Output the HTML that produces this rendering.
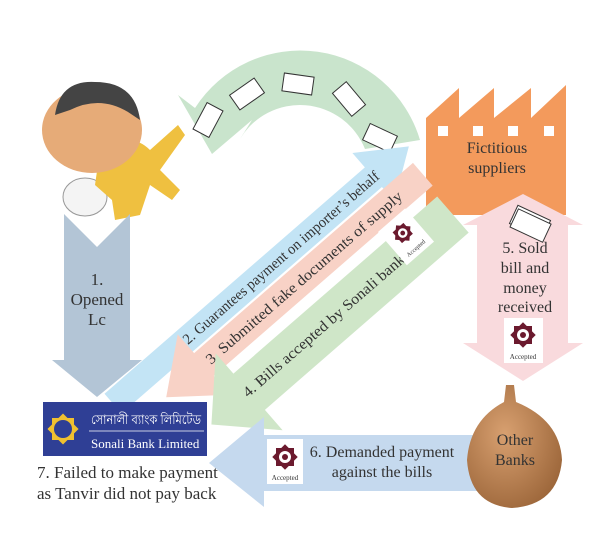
<!DOCTYPE html>
<html><head><meta charset="utf-8"><style>
html,body{margin:0;padding:0;background:#fff;}
svg{display:block;}
text{font-family:"Liberation Serif","Noto Serif CJK SC",serif;fill:#333;}
</style></head><body>
<svg width="600" height="539" viewBox="0 0 600 539" xmlns="http://www.w3.org/2000/svg">
<defs>
<radialGradient id="pot" cx="0.4" cy="0.4" r="0.7"><stop offset="0" stop-color="#d8a070"/><stop offset="1" stop-color="#9a6438"/></radialGradient>
<g id="star"><rect x="-9" y="-9" width="18" height="18" fill="#6b1a2e"/><rect x="-9" y="-9" width="18" height="18" fill="#6b1a2e" transform="rotate(45)"/><circle r="6" fill="#fff"/><circle r="3" fill="#6b1a2e"/></g>
</defs>

<!-- green arc -->
<path d="M420 140 A125 125 0 0 0 195 108 L178 95 L212 154 L252 120 L240 139 A70 70 0 0 1 365 149 Z" fill="#c9e4cc"/>
<g fill="#fff" stroke="#333" stroke-width="1">
<rect x="-15" y="-9" width="30" height="18" transform="translate(208,120) rotate(-62)"/>
<rect x="-15" y="-9" width="30" height="18" transform="translate(247,94) rotate(-35)"/>
<rect x="-15" y="-9" width="30" height="18" transform="translate(298,84) rotate(8)"/>
<rect x="-15" y="-9" width="30" height="18" transform="translate(349,99) rotate(50)"/>
<rect x="-15" y="-9" width="30" height="18" transform="translate(380,138) rotate(25)"/>
</g>

<!-- factory -->
<polygon points="426,215 426,118 459,88 459,118 494,88 494,118 531,88 531,118 566,85 566,215" fill="#f39a5c"/>
<g fill="#fff"><rect x="438" y="126" width="10" height="10"/><rect x="473" y="126" width="10" height="10"/><rect x="508" y="126" width="10" height="10"/><rect x="544" y="126" width="10" height="10"/></g>
<text x="497" y="153" font-size="16" text-anchor="middle">Fictitious</text>
<text x="497" y="173" font-size="16" text-anchor="middle">suppliers</text>

<!-- cartoon -->
<ellipse cx="85" cy="197" rx="22" ry="19" fill="#f4f4f4" stroke="#999"/>
<path d="M100 150 Q130 130 150 150 L178 125 L185 135 L160 170 L180 190 L172 200 L150 185 L140 215 L115 220 L112 200 L95 185 Z" fill="#efc040"/>
<ellipse cx="92" cy="130" rx="50" ry="43" fill="#e6ab78"/>
<path d="M55 115 Q60 80 95 82 Q135 82 140 120 L128 112 Q100 95 70 110 Z" fill="#444"/>

<!-- arrow 1 -->
<polygon points="64,214 97,247 130,214 130,360 142,360 97,397 52,360 64,360" fill="#b3c5d6"/>
<text x="97" y="285" font-size="17" text-anchor="middle">1.</text>
<text x="97" y="305" font-size="17" text-anchor="middle">Opened</text>
<text x="97" y="325" font-size="17" text-anchor="middle">Lc</text>

<!-- arrow 2 blue -->
<g transform="translate(188,345) rotate(-41)">
<polygon points="-95,-18 250,-18 250,-37 297,-5 250,27 250,8 -95,8" fill="#c3e4f5"/>
<text x="0" y="0" font-size="15" textLength="255" lengthAdjust="spacingAndGlyphs">2. Guarantees payment on importer’s behalf</text>
</g>
<!-- arrow 3 salmon -->
<g transform="translate(211,365) rotate(-41)">
<polygon points="285,-20 -5,-20 -5,-45 -55,-5 -5,35 -5,10 285,10" fill="#f8d2c6"/>
<text x="0" y="0" font-size="15" textLength="255" lengthAdjust="spacingAndGlyphs">3. Submitted fake documents of supply</text>
</g>
<!-- arrow 4 green -->
<g transform="translate(248,398) rotate(-41)">
<polygon points="275,-28 5,-28 5,-55 -45,-4 5,47 5,20 275,20" fill="#cfe6c8"/>
<text x="0" y="0" font-size="15" textLength="209" lengthAdjust="spacingAndGlyphs">4. Bills accepted by Sonali bank</text>
<g transform="translate(225,-18)"><rect x="-18" y="-22" width="36" height="44" fill="#fff"/><use href="#star" transform="translate(0,-5) scale(0.8)"/><text x="0" y="17" font-size="6" text-anchor="middle">Accepted</text></g>
</g>

<!-- arrow 5 -->
<polygon points="477,225 463,225 523,194 583,225 568,225 568,343 583,343 523,381 463,343 477,343" fill="#f9dadd"/>
<g transform="translate(530,222) rotate(25)"><rect x="-18" y="-10" width="36" height="20" fill="#fff" stroke="#333"/><rect x="-16" y="-7" width="36" height="20" fill="#fff" stroke="#333"/></g>
<text x="525" y="253" font-size="16" text-anchor="middle">5. Sold</text>
<text x="525" y="273" font-size="16" text-anchor="middle">bill and</text>
<text x="525" y="293" font-size="16" text-anchor="middle">money</text>
<text x="525" y="312" font-size="16" text-anchor="middle">received</text>
<rect x="504" y="318" width="39" height="45" fill="#fff"/>
<use href="#star" transform="translate(523,335)"/>
<text x="523" y="359" font-size="7" text-anchor="middle">Accepted</text>

<!-- arrow 6 -->
<polygon points="485,435 264,435 264,417 209,463 264,507 264,491 485,491" fill="#c5d9ee"/>
<rect x="267" y="439" width="36" height="45" fill="#fff"/>
<use href="#star" transform="translate(285,457)"/>
<text x="285" y="480" font-size="7" text-anchor="middle">Accepted</text>
<text x="382" y="457" font-size="16" text-anchor="middle">6. Demanded payment</text>
<text x="382" y="477" font-size="16" text-anchor="middle">against the bills</text>

<!-- pot -->
<path d="M506 385 L514 385 L516 402 Q560 420 562 460 Q558 505 512 508 Q470 505 467 460 Q470 420 504 402 Z" fill="url(#pot)"/>
<text x="515" y="445" font-size="16" text-anchor="middle">Other</text>
<text x="515" y="465" font-size="16" text-anchor="middle">Banks</text>

<!-- Sonali logo -->
<rect x="43" y="402" width="164" height="54" fill="#2f3f95"/>
<g transform="translate(63,429)"><rect x="-11" y="-11" width="22" height="22" fill="#f0c030"/><rect x="-11" y="-11" width="22" height="22" fill="#f0c030" transform="rotate(45)"/><circle r="9" fill="#2f3f95"/></g>
<text x="91" y="424" font-size="13" textLength="110" lengthAdjust="spacingAndGlyphs" style="fill:#fff;font-family:'Liberation Sans','Noto Sans CJK SC',sans-serif">সোনালী ব্যাংক লিমিটেড</text>
<line x1="89" y1="431" x2="204" y2="431" stroke="#fff" stroke-width="0.7"/>
<text x="91" y="448" font-size="13" style="fill:#fff">Sonali Bank Limited</text>
<text x="37" y="478" font-size="17">7. Failed to make payment</text>
<text x="37" y="499" font-size="17">as Tanvir did not pay back</text>
</svg>
</body></html>
